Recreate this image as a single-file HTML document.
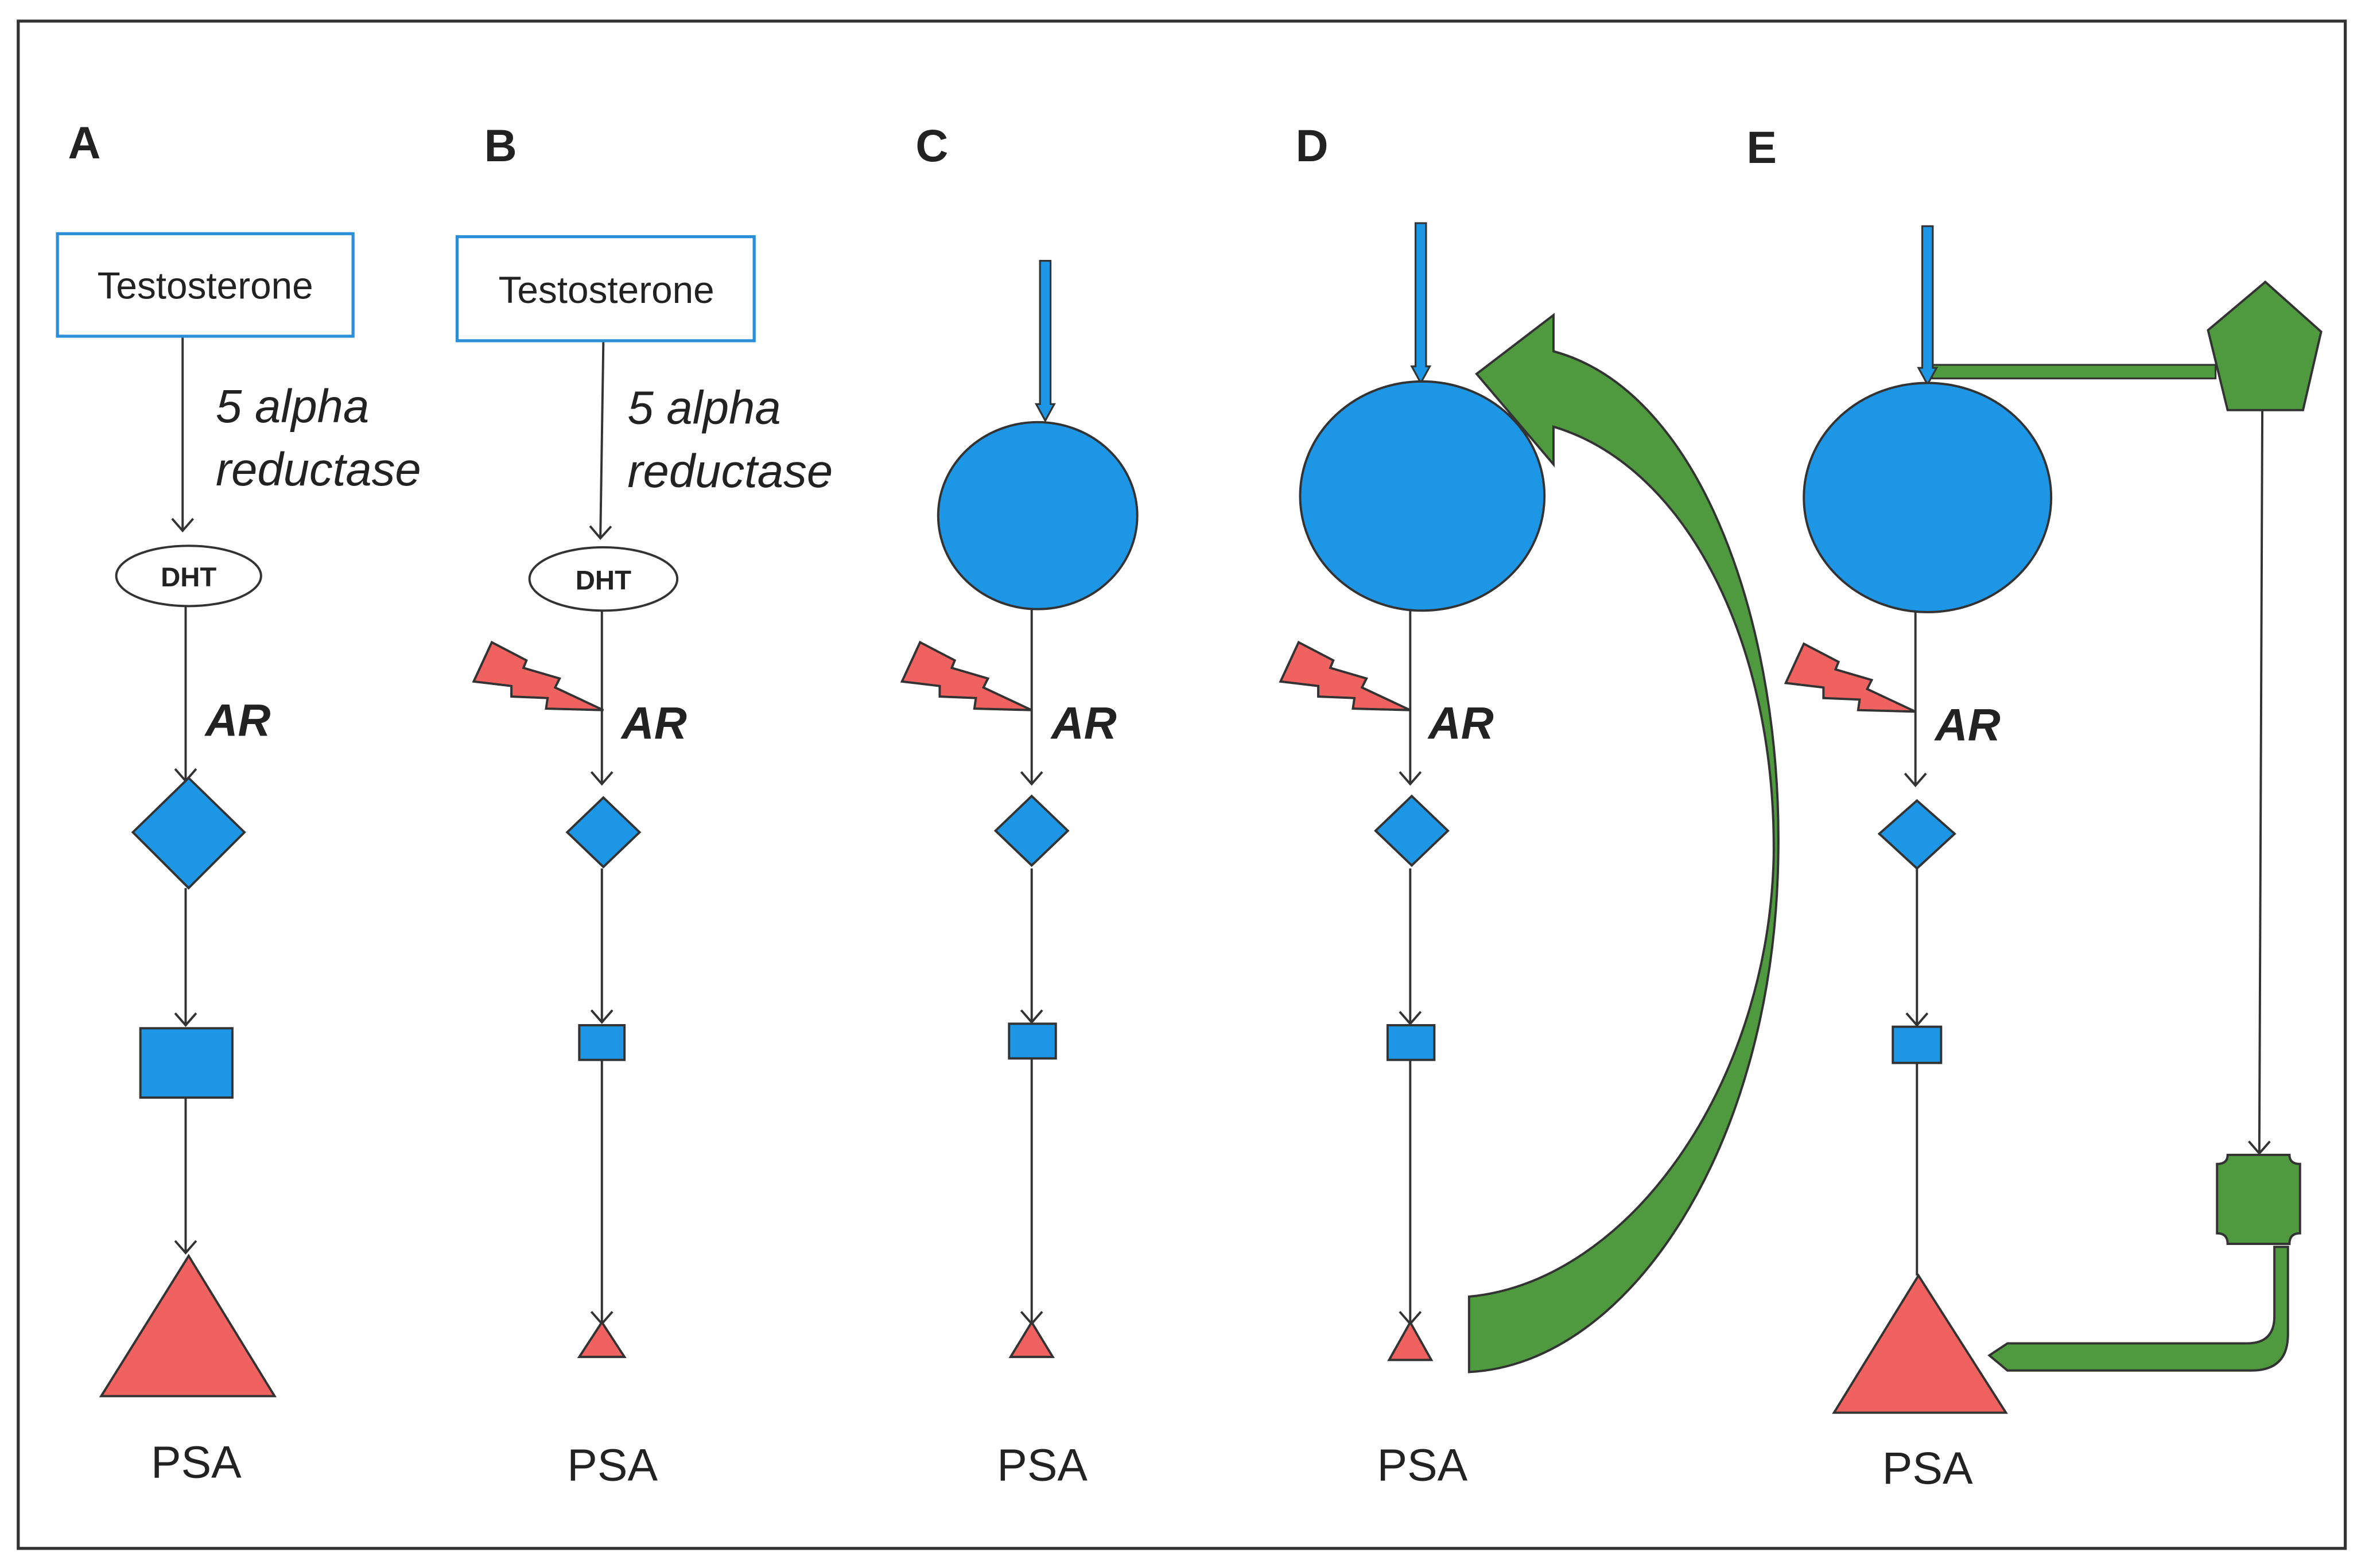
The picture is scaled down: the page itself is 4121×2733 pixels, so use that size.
<!DOCTYPE html>
<html><head><meta charset="utf-8"><style>
html,body{margin:0;padding:0;background:#fff}
svg{display:block}
text{font-family:"Liberation Sans",sans-serif;fill:#222}
</style></head><body>
<svg width="4121" height="2733" viewBox="0 0 1568 1040" xmlns="http://www.w3.org/2000/svg">
<defs>
<marker id="v" markerWidth="20" markerHeight="20" refX="10" refY="10" orient="auto" markerUnits="userSpaceOnUse">
<path d="M2,3 L10,10 L2,17" fill="none" stroke="#333" stroke-width="1.5"/>
</marker>
<path id="bolt" d="M-74,-45 L-51,-33 L-53,-28 L-29,-21 L-32,-15 L0,0 L-38,-1 L-37,-8 L-61,-9 L-61,-16 L-86,-19 Z" fill="#f0625f" stroke="#333" stroke-width="1.5"/>
</defs>
<rect x="0" y="0" width="1568" height="1040" fill="#fff"/>
<rect x="12" y="14" width="1543" height="1013" fill="none" stroke="#333" stroke-width="2"/>

<g font-weight="bold" font-size="30">
<text x="45" y="105">A</text><text x="321" y="107">B</text><text x="607" y="107">C</text><text x="859" y="107">D</text><text x="1158" y="108">E</text>
</g>

<g stroke="#333" stroke-width="1.5" fill="none">
<line x1="121" y1="223" x2="121" y2="352" marker-end="url(#v)"/>
<line x1="123" y1="402" x2="123" y2="518" marker-end="url(#v)"/>
<line x1="123" y1="589" x2="123" y2="680" marker-end="url(#v)"/>
<line x1="123" y1="728" x2="123" y2="831" marker-end="url(#v)"/>
<line x1="400" y1="226" x2="398" y2="357" marker-end="url(#v)"/>
<line x1="399" y1="405" x2="399" y2="520" marker-end="url(#v)"/>
<line x1="399" y1="576" x2="399" y2="678" marker-end="url(#v)"/>
<line x1="399" y1="703" x2="399" y2="878" marker-end="url(#v)"/>
<line x1="684" y1="404" x2="684" y2="520" marker-end="url(#v)"/>
<line x1="684" y1="576" x2="684" y2="678" marker-end="url(#v)"/>
<line x1="684" y1="702" x2="684" y2="878" marker-end="url(#v)"/>
<line x1="935" y1="404" x2="935" y2="520" marker-end="url(#v)"/>
<line x1="935" y1="576" x2="935" y2="679" marker-end="url(#v)"/>
<line x1="935" y1="703" x2="935" y2="878" marker-end="url(#v)"/>
<line x1="1270" y1="406" x2="1270" y2="521" marker-end="url(#v)"/>
<line x1="1271" y1="576" x2="1271" y2="680" marker-end="url(#v)"/>
<line x1="1271" y1="705" x2="1271" y2="846"/>
<line x1="1500" y1="272" x2="1498" y2="765" marker-end="url(#v)"/>
</g>

<rect x="38" y="155" width="196" height="68" fill="#fff" stroke="#2a8fd6" stroke-width="2"/>
<text x="136" y="198" font-size="25" text-anchor="middle">Testosterone</text>
<text x="143" y="280" font-size="31" font-style="italic">5 alpha</text>
<text x="143" y="322" font-size="31" font-style="italic">reductase</text>
<ellipse cx="125" cy="382" rx="48" ry="20" fill="#fff" stroke="#333" stroke-width="1.5"/>
<text x="125" y="389" font-size="18" font-weight="bold" text-anchor="middle">DHT</text>
<text x="136" y="488" font-size="30" font-weight="bold" font-style="italic">AR</text>
<path d="M125,516 L162,552 L125,589 L88,552 Z" fill="#1e96e6" stroke="#333" stroke-width="1.5"/>
<rect x="93" y="682" width="61" height="46" fill="#1e96e6" stroke="#333" stroke-width="1.5"/>
<path d="M67,926 L182,926 L125,833 Z" fill="#f0625f" stroke="#333" stroke-width="1.5"/>
<text x="130" y="980" font-size="30" text-anchor="middle">PSA</text>

<rect x="303" y="157" width="197" height="69" fill="#fff" stroke="#2a8fd6" stroke-width="2"/>
<text x="402" y="201" font-size="25" text-anchor="middle">Testosterone</text>
<text x="416" y="281" font-size="31" font-style="italic">5 alpha</text>
<text x="416" y="323" font-size="31" font-style="italic">reductase</text>
<ellipse cx="400" cy="384" rx="49" ry="21" fill="#fff" stroke="#333" stroke-width="1.5"/>
<text x="400" y="391" font-size="18" font-weight="bold" text-anchor="middle">DHT</text>
<use href="#bolt" x="400" y="471"/>
<text x="412" y="490" font-size="30" font-weight="bold" font-style="italic">AR</text>
<path d="M400,529 L424,552 L400,575 L376,552 Z" fill="#1e96e6" stroke="#333" stroke-width="1.5"/>
<rect x="384" y="680" width="30" height="23" fill="#1e96e6" stroke="#333" stroke-width="1.5"/>
<path d="M384,900 L414,900 L399,877 Z" fill="#f0625f" stroke="#333" stroke-width="1.5"/>
<text x="406" y="982" font-size="30" text-anchor="middle">PSA</text>

<path d="M689.5,173 L696.5,173 L696.5,268 L699,268 L693,279 L687,268 L689.5,268 Z" fill="#1e96e6" stroke="#333" stroke-width="1.2"/>
<ellipse cx="688" cy="342" rx="66" ry="62" fill="#1e96e6" stroke="#333" stroke-width="1.5"/>
<use href="#bolt" x="684" y="471"/>
<text x="697" y="490" font-size="30" font-weight="bold" font-style="italic">AR</text>
<path d="M684,528 L708,551 L684,574 L660,551 Z" fill="#1e96e6" stroke="#333" stroke-width="1.5"/>
<rect x="669" y="679" width="31" height="23" fill="#1e96e6" stroke="#333" stroke-width="1.5"/>
<path d="M670,900 L698,900 L684,877 Z" fill="#f0625f" stroke="#333" stroke-width="1.5"/>
<text x="691" y="982" font-size="30" text-anchor="middle">PSA</text>

<path d="M938.5,148 L945.5,148 L945.5,243 L948,243 L942,254 L936,243 L938.5,243 Z" fill="#1e96e6" stroke="#333" stroke-width="1.2"/>
<ellipse cx="943" cy="329" rx="81" ry="76" fill="#1e96e6" stroke="#333" stroke-width="1.5"/>
<path d="M1030,233 C1130,260 1182,420 1179,569 C1176,760 1080,905 974,910 L974,860 C1080,850 1172,720 1176,569 C1178,430 1120,310 1030,283 L1030,308 L979,248 L1030,209 Z" fill="#4f9a3e" stroke="#333" stroke-width="1.5"/>
<use href="#bolt" x="935" y="471"/>
<text x="947" y="490" font-size="30" font-weight="bold" font-style="italic">AR</text>
<path d="M936,528 L960,551 L936,574 L912,551 Z" fill="#1e96e6" stroke="#333" stroke-width="1.5"/>
<rect x="920" y="680" width="31" height="23" fill="#1e96e6" stroke="#333" stroke-width="1.5"/>
<path d="M921,902 L949,902 L935,877 Z" fill="#f0625f" stroke="#333" stroke-width="1.5"/>
<text x="943" y="982" font-size="30" text-anchor="middle">PSA</text>

<rect x="1281" y="242" width="188" height="9" fill="#4f9a3e" stroke="#333" stroke-width="1.2"/>
<path d="M1274.5,150 L1281.5,150 L1281.5,244 L1284,244 L1278,255 L1272,244 L1274.5,244 Z" fill="#1e96e6" stroke="#333" stroke-width="1.2"/>
<path d="M1502,187 L1539,220 L1527,272 L1477,272 L1464,219 Z" fill="#4f9a3e" stroke="#333" stroke-width="1.5"/>
<ellipse cx="1278" cy="330" rx="82" ry="76" fill="#1e96e6" stroke="#333" stroke-width="1.5"/>
<use href="#bolt" x="1270" y="472"/>
<text x="1283" y="491" font-size="30" font-weight="bold" font-style="italic">AR</text>
<path d="M1271,531 L1296,553 L1271,576 L1246,553 Z" fill="#1e96e6" stroke="#333" stroke-width="1.5"/>
<rect x="1255" y="681" width="32" height="24" fill="#1e96e6" stroke="#333" stroke-width="1.5"/>
<path d="M1216,937 L1330,937 L1272,846 Z" fill="#f0625f" stroke="#333" stroke-width="1.5"/>
<text x="1278" y="984" font-size="30" text-anchor="middle">PSA</text>
<path d="M1477,766 L1518,766 Q1518,772 1525,772 L1525,818 Q1518,818 1518,825 L1477,825 Q1477,818 1470,818 L1470,772 Q1477,772 1477,766 Z" fill="#4f9a3e" stroke="#333" stroke-width="1.5"/>
<path d="M1508,827 L1517,827 L1517,885 Q1517,909 1493,909 L1331,909 L1319,899 L1331,891 L1490,891 Q1508,891 1508,873 Z" fill="#4f9a3e" stroke="#333" stroke-width="1.5"/>
</svg>
</body></html>
